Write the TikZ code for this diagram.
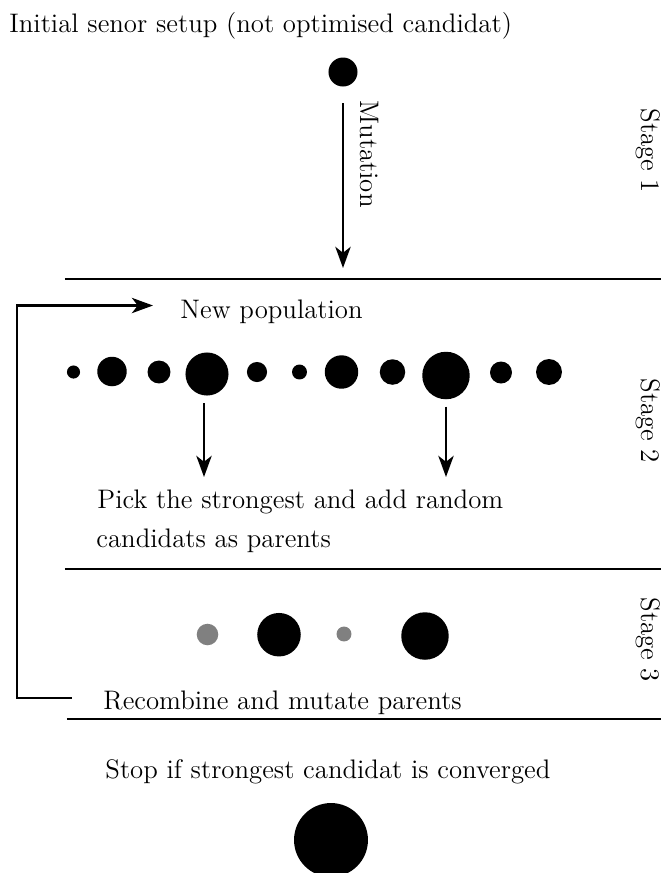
\documentclass[tikz,border=0pt]{standalone}
\usetikzlibrary{arrows.meta}
\begin{document}
\begin{tikzpicture}[x=0.4274pt, y=-0.4274pt,
  every node/.style={font=\fontsize{11.45pt}{14pt}\selectfont},
  arr/.style={line width=1.2pt, -{Stealth[length=9pt,width=6.5pt,inset=2.5pt]}},
  sep/.style={line width=1.2pt},
  dot/.style={circle, fill=black, inner sep=0pt},
  gdot/.style={circle, fill=black!50, inner sep=0pt},
  txt/.style={inner sep=0pt, anchor=base west},
  stagelbl/.style={inner sep=0pt, anchor=base west, rotate=-90}]
\useasboundingbox (0,0) rectangle (661,873);

% texts
\node[txt] (title) at (9,32) {Initial senor setup (not optimised candidat)};
\node[stagelbl] (mut) at (360.5,100) {Mutation};
\node[stagelbl] (s1) at (641,108) {Stage 1};
\node[stagelbl] (s2) at (641,378) {Stage 2};
\node[stagelbl] (s3) at (641,597) {Stage 3};
\node[txt] (newpop) at (180,318) {New population};
\node[txt] (pick1) at (97,508) {Pick the strongest and add random};
\node[txt] (pick2) at (96,547) {candidats as parents};
\node[txt] (recomb) at (103,709) {Recombine and mutate parents};
\node[txt] (stop) at (105,778) {Stop if strongest candidat is converged};

% stage 1
\node[dot, minimum size=12.4pt] (c0) at (343,72) {};
\coordinate (m1) at (343,268);
\draw[arr, shorten <=7pt] (c0) -- (m1);

% separator lines
\coordinate (l1a) at (65,279);   \coordinate (l1b) at (661,279);
\coordinate (l2a) at (65,569);   \coordinate (l2b) at (661,569);
\coordinate (l3a) at (67,719);   \coordinate (l3b) at (661,719);
\draw[sep] (l1a) -- (l1b);
\draw[sep] (l2a) -- (l2b);
\draw[sep] (l3a) -- (l3b);

% stage 2 population
\node[dot, minimum size=5.6pt]  (p1)  at (73.5,372) {};
\node[dot, minimum size=12.6pt] (p2)  at (112,371.5) {};
\node[dot, minimum size=9.8pt]  (p3)  at (159,372) {};
\node[dot, minimum size=18.4pt] (p4)  at (207,374) {};
\node[dot, minimum size=8.6pt]  (p5)  at (257,372) {};
\node[dot, minimum size=6.4pt]  (p6)  at (299.5,372) {};
\node[dot, minimum size=14.3pt] (p7)  at (341.5,372) {};
\node[dot, minimum size=10.9pt] (p8)  at (392.5,372) {};
\node[dot, minimum size=20.3pt] (p9)  at (446,375.5) {};
\node[dot, minimum size=9.4pt]  (p10) at (501,372.5) {};
\node[dot, minimum size=11.1pt] (p11) at (549,372) {};

\coordinate (e4) at (204,477);
\coordinate (e9) at (446,477);
\draw[arr, shorten <=3pt] (p4.south -| e4) -- (e4);
\draw[arr, shorten <=3pt] (p9) -- (e9);

% stage 3
\node[gdot, minimum size=9.2pt]  (r1) at (207.5,634.5) {};
\node[dot,  minimum size=18.6pt] (r2) at (279,634.7) {};
\node[gdot, minimum size=6.4pt]  (r3) at (344,634) {};
\node[dot,  minimum size=20.3pt] (r4) at (425,636) {};

% feedback loop
\coordinate (fb1) at (72,698);
\coordinate (fbc) at (17,500);
\coordinate (fb2) at (153,305.5);
\draw[arr] (fb1) -| (fbc) |- (fb2);

% final
\node[dot, minimum size=31.6pt] (fin) at (331,840) {};
\end{tikzpicture}
\end{document}
